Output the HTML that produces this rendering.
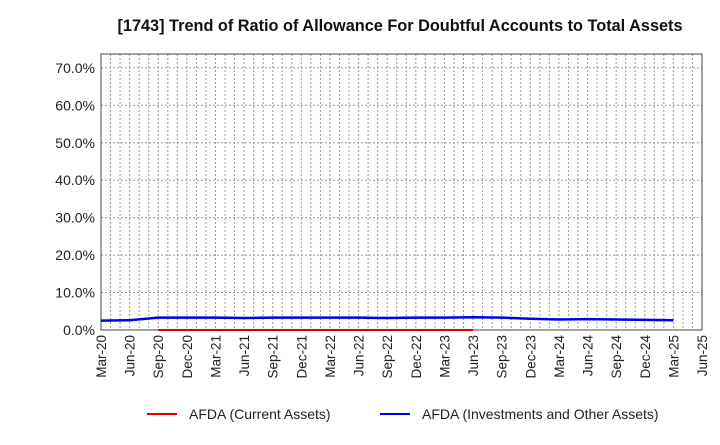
<!DOCTYPE html>
<html><head><meta charset="utf-8"><style>
body{margin:0;background:#fff;font-family:"Liberation Sans",Arial,sans-serif;}
</style></head><body>
<svg id="c" width="720" height="440" xmlns="http://www.w3.org/2000/svg"></svg>
<script>
const quarters=["Mar-20","Jun-20","Sep-20","Dec-20","Mar-21","Jun-21","Sep-21","Dec-21","Mar-22","Jun-22","Sep-22","Dec-22","Mar-23","Jun-23","Sep-23","Dec-23","Mar-24","Jun-24","Sep-24","Dec-24","Mar-25","Jun-25"];
const yTicks=[0,10,20,30,40,50,60,70];
const blueVals=[2.5,2.6,3.3,3.3,3.3,3.2,3.3,3.3,3.3,3.3,3.2,3.3,3.3,3.4,3.3,3.0,2.8,2.9,2.8,2.7,2.6];
const redStart=2;
const redVals=[0,0,0,0,0,0,0,0,0,0,0,0];
const svg=document.getElementById('c');const NS="http://www.w3.org/2000/svg";
const L=101,R=702,T=54,B=330,YMAX=73.7;
const x=i=>L+(R-L)*i/(quarters.length-1);
const y=v=>B-(B-T)*v/YMAX;
function mk(t,a,p){const e=document.createElementNS(NS,t);for(const k in a)e.setAttribute(k,a[k]);(p||svg).appendChild(e);return e;}
let t=mk('text',{x:400,y:31,'text-anchor':'middle','font-size':16.3,'font-weight':'bold',fill:'#111'});

t.textContent='[1743]  Trend of Ratio of Allowance For Doubtful Accounts to Total Assets';
const g=mk('g',{});
for(let m=0;m<=(quarters.length-1)*3;m++){const xx=L+(R-L)*m/((quarters.length-1)*3);mk('line',{x1:xx,x2:xx,y1:T,y2:B,stroke:'#999','stroke-dasharray':'2,2','stroke-width':1},g);}
yTicks.forEach(v=>{mk('line',{x1:L,x2:R,y1:y(v),y2:y(v),stroke:'#999','stroke-dasharray':'2,2'},g);
const l=mk('text',{x:L-6,y:y(v)+5,'text-anchor':'end','font-size':14,fill:'#222'});l.textContent=v.toFixed(1)+'%';});
quarters.forEach((q,i)=>{const l=mk('text',{transform:`translate(${x(i)+5},${B+5}) rotate(-90)`,'text-anchor':'end','font-size':13.5,fill:'#222'});l.textContent=q;});
const ax=mk('rect',{x:L,y:T,width:R-L,height:B-T,fill:'none',stroke:'#444','stroke-width':1});
const rp=mk('polyline',{points:redVals.map((v,i)=>x(i+redStart)+','+y(v)).join(' '),fill:'none',stroke:'#e00000','stroke-width':2});
const bp=mk('polyline',{points:blueVals.map((v,i)=>x(i)+','+y(v)).join(' '),fill:'none',stroke:'#0000ee','stroke-width':2.5});
[[147,'#e00000','AFDA (Current Assets)','legend-current-assets'],[380,'#0000ee','AFDA (Investments and Other Assets)','legend-investments']].forEach(d=>{
const lg=mk('g',{});
mk('line',{x1:d[0],x2:d[0]+30,y1:414,y2:414,stroke:d[1],'stroke-width':2},lg);
const tx=mk('text',{x:d[0]+42,y:419,'font-size':14,fill:'#222'},lg);tx.textContent=d[2];});
</script>
</body></html>
